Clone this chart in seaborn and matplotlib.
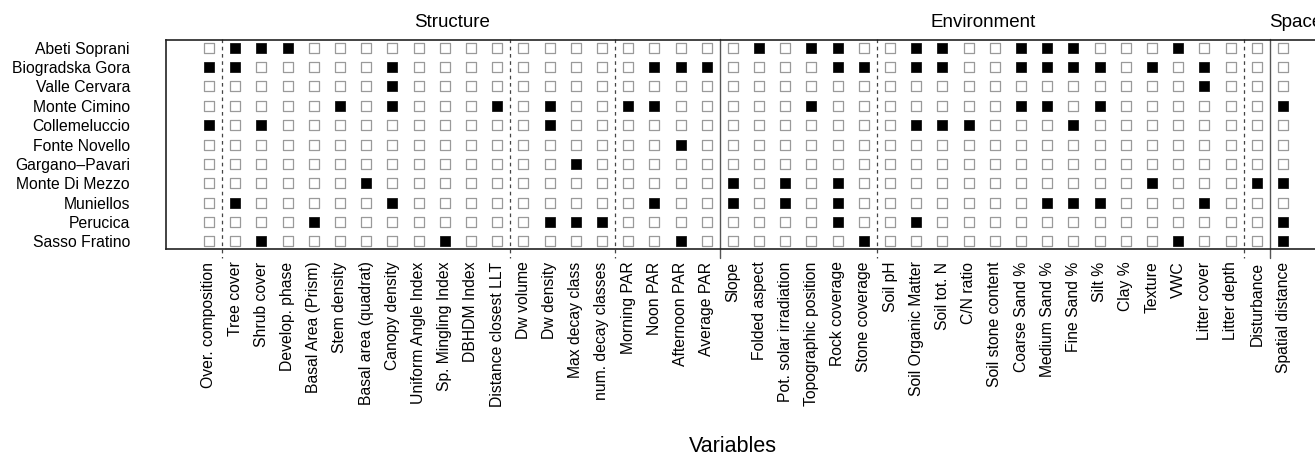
import numpy as np
import pandas as pd
import matplotlib
matplotlib.use("Agg")
import matplotlib.pyplot as plt
import matplotlib.transforms as mtransforms
import seaborn as sns

# ---------------- data ----------------
sites = ["Abeti Soprani", "Biogradska Gora", "Valle Cervara", "Monte Cimino",
         "Collemeluccio", "Fonte Novello", "Gargano\u2013Pavari", "Monte Di Mezzo",
         "Muniellos", "Perucica", "Sasso Fratino"]

variables = ["Over. composition", "Tree cover", "Shrub cover", "Develop. phase",
             "Basal Area (Prism)", "Stem density", "Basal area (quadrat)",
             "Canopy density", "Uniform Angle Index", "Sp. Mingling Index",
             "DBHDM Index", "Distance closest LLT", "Dw volume", "Dw density",
             "Max decay class", "num. decay classes", "Morning PAR", "Noon PAR",
             "Afternoon PAR", "Average PAR", "Slope", "Folded aspect",
             "Pot. solar irradiation", "Topographic position", "Rock coverage",
             "Stone coverage", "Soil pH", "Soil Organic Matter", "Soil tot. N",
             "C/N ratio", "Soil stone content", "Coarse Sand %", "Medium Sand %",
             "Fine Sand %", "Silt %", "Clay %", "Texture", "VWC", "Litter cover",
             "Litter depth", "Disturbance", "Spatial distance"]

# 1 = variable selected for that site (columns follow `variables`)
abeti_soprani   = [0,1,1,1,0,0,0,0,0,0,0,0, 0,0,0,0, 0,0,0,0, 0,1,0,1,1,0, 0,1,1,0,0,1,1,1,0,0,0,1,0,0, 0, 0]
biogradska_gora = [1,1,0,0,0,0,0,1,0,0,0,0, 0,0,0,0, 0,1,1,1, 0,0,0,0,1,1, 0,1,1,0,0,1,1,1,1,0,1,0,1,0, 0, 0]
valle_cervara   = [0,0,0,0,0,0,0,1,0,0,0,0, 0,0,0,0, 0,0,0,0, 0,0,0,0,0,0, 0,0,0,0,0,0,0,0,0,0,0,0,1,0, 0, 0]
monte_cimino    = [0,0,0,0,0,1,0,1,0,0,0,1, 0,1,0,0, 1,1,0,0, 0,0,0,1,0,0, 0,0,0,0,0,1,1,0,1,0,0,0,0,0, 0, 1]
collemeluccio   = [1,0,1,0,0,0,0,0,0,0,0,0, 0,1,0,0, 0,0,0,0, 0,0,0,0,0,0, 0,1,1,1,0,0,0,1,0,0,0,0,0,0, 0, 0]
fonte_novello   = [0,0,0,0,0,0,0,0,0,0,0,0, 0,0,0,0, 0,0,1,0, 0,0,0,0,0,0, 0,0,0,0,0,0,0,0,0,0,0,0,0,0, 0, 0]
gargano_pavari  = [0,0,0,0,0,0,0,0,0,0,0,0, 0,0,1,0, 0,0,0,0, 0,0,0,0,0,0, 0,0,0,0,0,0,0,0,0,0,0,0,0,0, 0, 0]
monte_di_mezzo  = [0,0,0,0,0,0,1,0,0,0,0,0, 0,0,0,0, 0,0,0,0, 1,0,1,0,1,0, 0,0,0,0,0,0,0,0,0,0,1,0,0,0, 1, 1]
muniellos       = [0,1,0,0,0,0,0,1,0,0,0,0, 0,0,0,0, 0,1,0,0, 1,0,1,0,1,0, 0,0,0,0,0,0,1,1,1,0,0,0,1,0, 0, 0]
perucica        = [0,0,0,0,1,0,0,0,0,0,0,0, 0,1,1,1, 0,0,0,0, 0,0,0,0,1,0, 0,1,0,0,0,0,0,0,0,0,0,0,0,0, 0, 1]
sasso_fratino   = [0,0,1,0,0,0,0,0,0,1,0,0, 0,0,0,0, 0,0,1,0, 0,0,0,0,0,1, 0,0,0,0,0,0,0,0,0,0,0,1,0,0, 0, 1]

groups = ["Structure", "Environment", "Space"]

# ---------------- build long table ----------------
site_rows = [abeti_soprani, biogradska_gora, valle_cervara, monte_cimino,
             collemeluccio, fonte_novello, gargano_pavari, monte_di_mezzo,
             muniellos, perucica, sasso_fratino]
recs = []
for yi, row in enumerate(site_rows):
    for xi, v in enumerate(row):
        recs.append({"xi": xi, "yi": yi, "site": sites[yi],
                     "variable": variables[xi], "sel": v})
df = pd.DataFrame(recs)

# ---------------- style ----------------
sns.set_theme(style="white")
plt.rcParams["font.family"] = ["Liberation Sans", "DejaVu Sans"]
plt.rcParams["text.color"] = "black"
plt.rcParams["axes.labelcolor"] = "black"
plt.rcParams["xtick.color"] = "black"
plt.rcParams["ytick.color"] = "black"

W, H = 1315, 455
fig = plt.figure(figsize=(W / 100, H / 100), dpi=100)
ax = fig.add_axes([166 / W, 1 - 249 / H, 1160 / W, 209 / H])

sns.scatterplot(data=df[df.sel == 0], x="xi", y="yi", marker="s", s=44,
                color="white", edgecolor="#9a9a9a", linewidth=0.9,
                ax=ax, legend=False, zorder=3)
sns.scatterplot(data=df[df.sel == 1], x="xi", y="yi", marker="s", s=44,
                color="black", edgecolor="black", linewidth=0.5,
                ax=ax, legend=False, zorder=3)

ax.set_xlim(-1.64, len(variables) - 1 + 1.64)
ax.set_ylim(len(sites) - 1 + 0.4, -0.4)
ax.set_xticks(range(len(variables)))
ax.set_xticklabels(variables, rotation=90, fontsize=11.3, va="top", color="black")
ax.set_yticks(range(len(sites)))
ax.set_yticklabels(sites, fontsize=11.3, color="black")
ax.tick_params(axis="x", length=0, pad=9.0, labelcolor="black")
ax.tick_params(axis="y", length=0, pad=26.0, labelcolor="black")
ax.set_xlabel("")
ax.set_ylabel("")
for sp in ax.spines.values():
    sp.set_color("#222222")
    sp.set_linewidth(1.2)
ax.grid(False)

# separators
ybot = len(sites) - 1 + 0.87
ytop = -0.45
for xs in [0.5, 11.5, 15.5, 25.5, 39.5]:
    ax.plot([xs, xs], [ytop, ybot], color="#444444", lw=0.9,
            linestyle=(0, (2.9, 2.9)), clip_on=False, zorder=2)
for xs in [19.5, 40.5]:
    ax.plot([xs, xs], [ytop, ybot], color="#555555", lw=1.0,
            clip_on=False, zorder=2)

# group labels
trans = mtransforms.blended_transform_factory(ax.transData, fig.transFigure)
for name, xc in zip(groups, [9.27, 29.54, 41.5]):
    ax.text(xc, 1 - 27 / H, name, transform=trans, ha="center",
            va="baseline", fontsize=13.5, color="black")

fig.text(733 / W, 1 - 452 / H, "Variables", ha="center", va="baseline",
         fontsize=15.5, color="black")

fig.savefig("out.png", dpi=100)
